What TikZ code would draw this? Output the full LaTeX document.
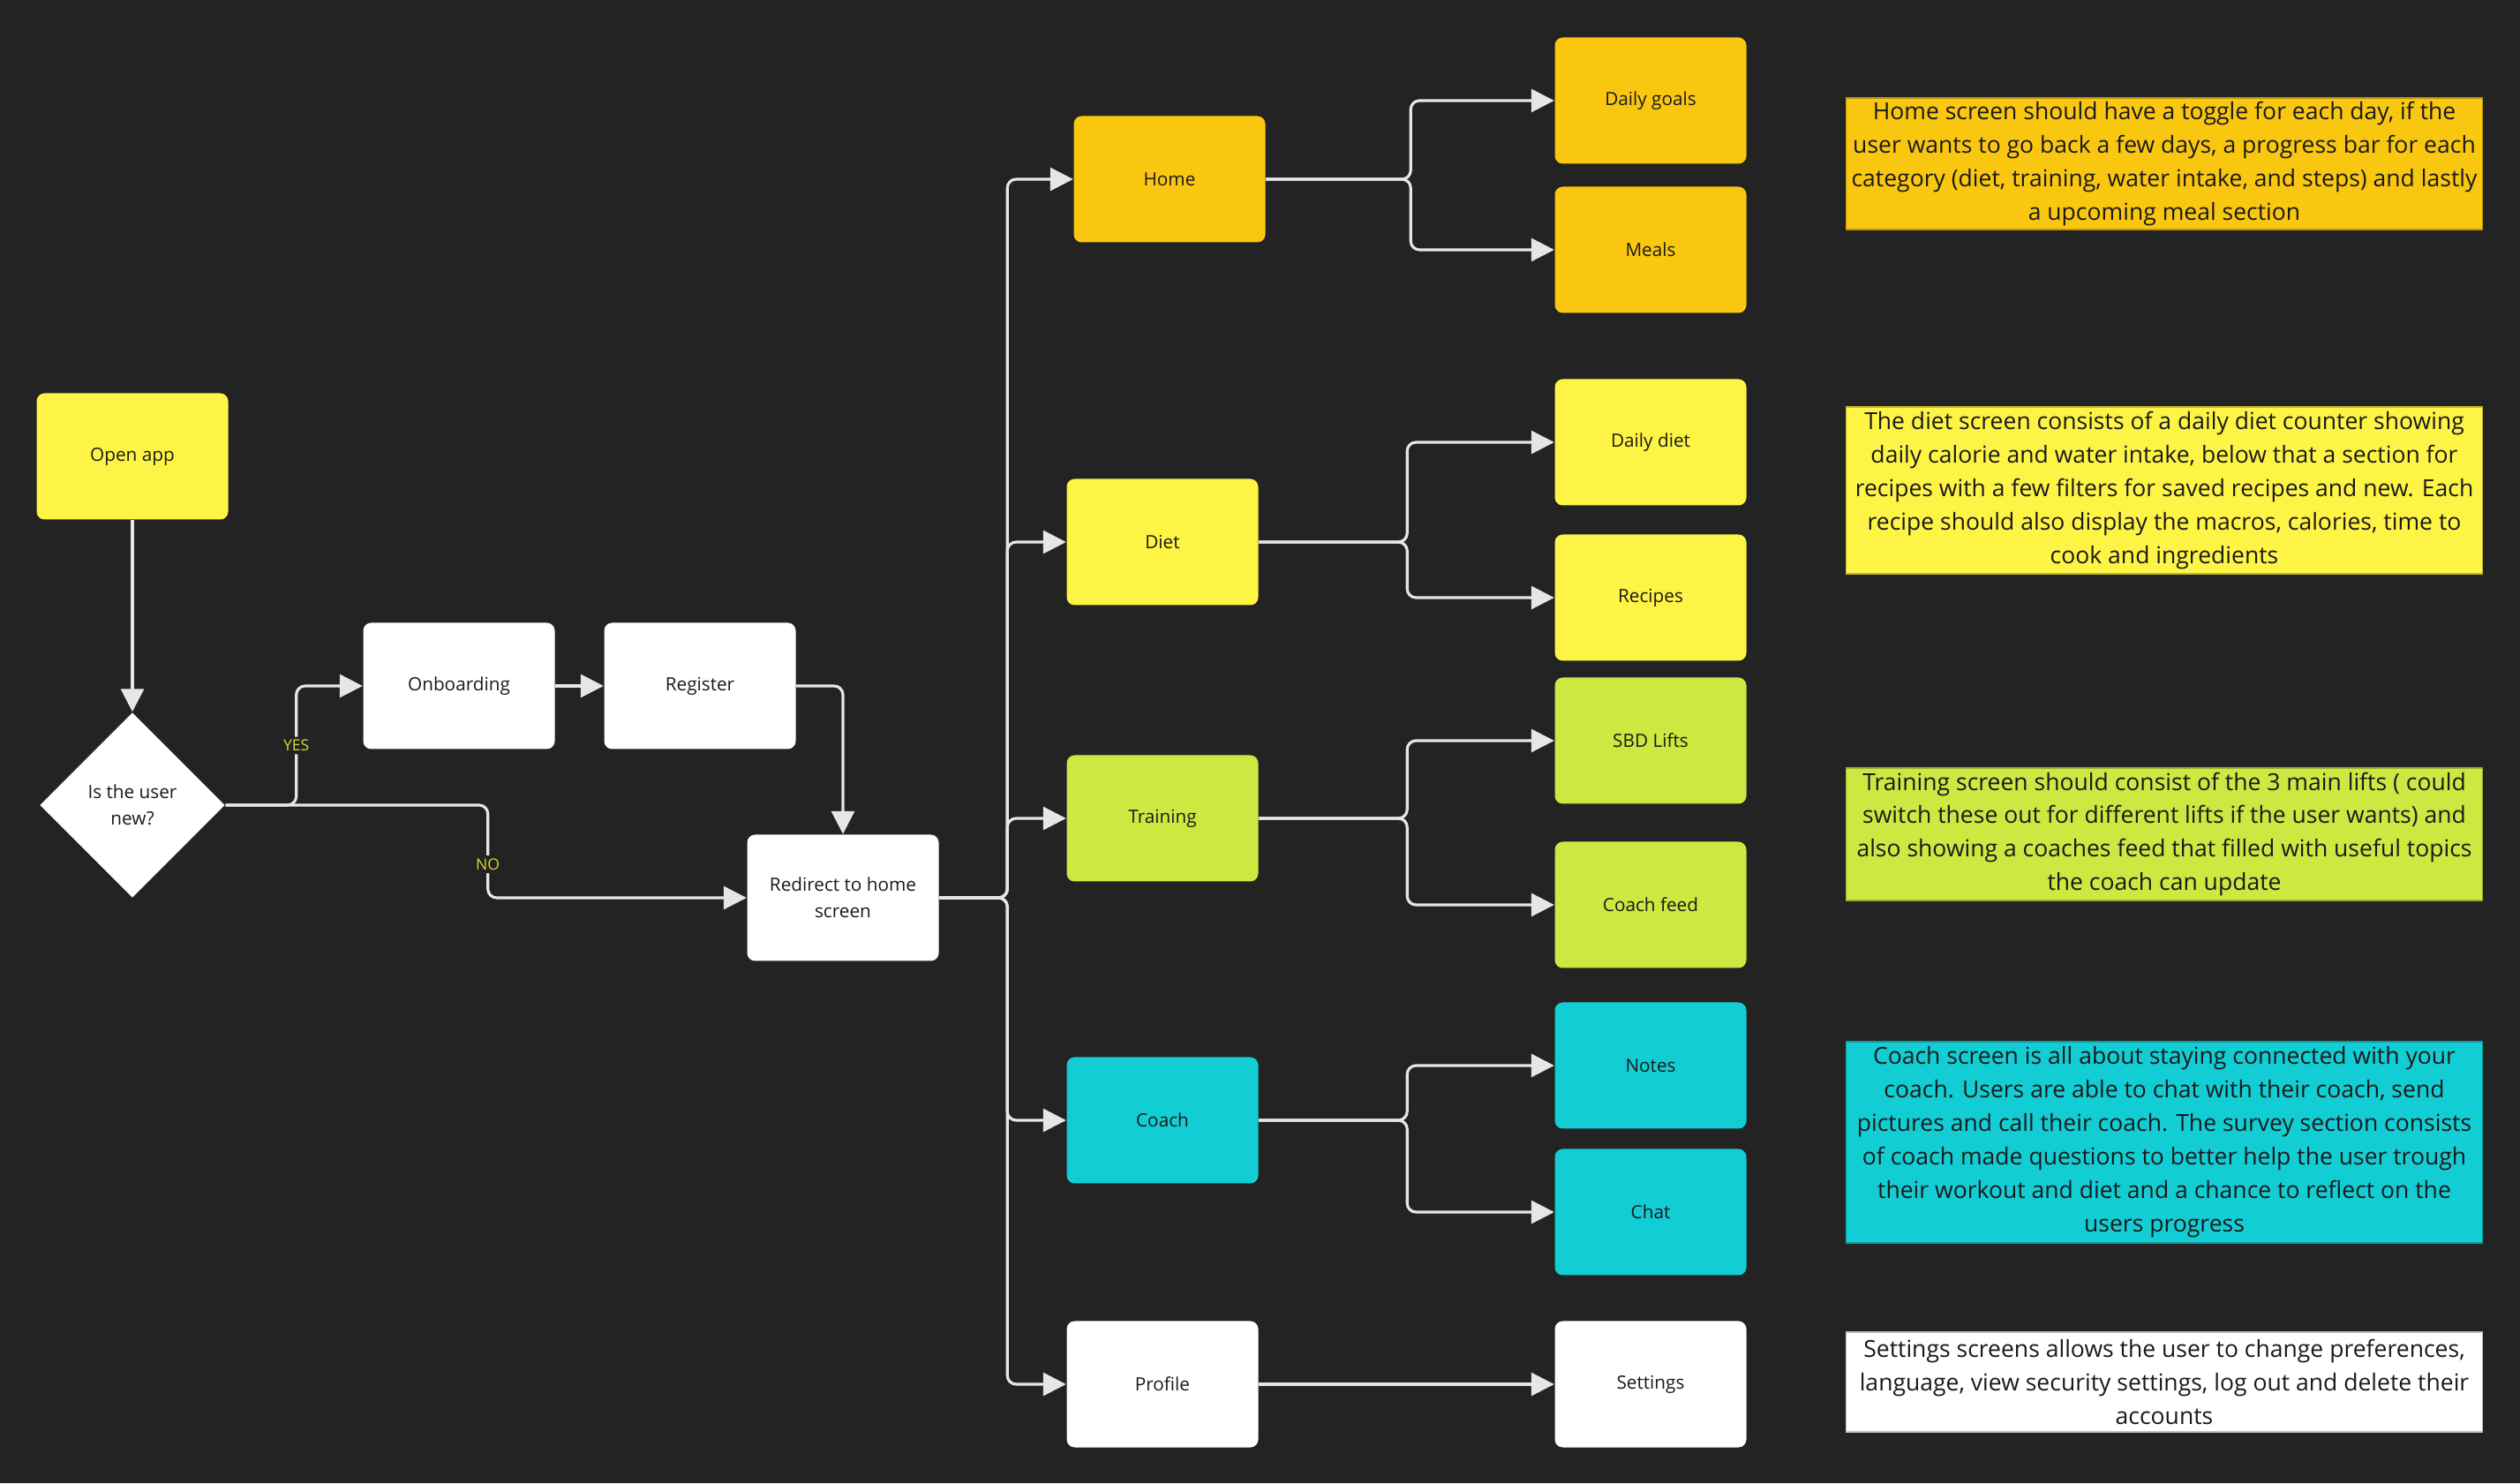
\documentclass[tikz,border=0pt]{standalone}
\usepackage{fontspec}
\setmainfont{Open Sans}
\usetikzlibrary{positioning,arrows.meta,calc,shapes.geometric}
\definecolor{boardbg}{HTML}{232323}
\definecolor{homeorange}{HTML}{FAC710}
\definecolor{dietyellow}{HTML}{FEF445}
\definecolor{trainlime}{HTML}{CEE741}
\definecolor{coachcyan}{HTML}{12CDD4}
\definecolor{linegrey}{HTML}{E6E6E6}
\definecolor{labelyellow}{HTML}{D6D62B}
\definecolor{inktext}{HTML}{1A1A1A}

\begin{document}
\begin{tikzpicture}[
    every node/.style={font=\fontsize{5.9}{8.5}\selectfont, text=inktext},
    screen/.style={rectangle, rounded corners=0.9mm, minimum width=21.7mm,
                   minimum height=14.3mm, inner sep=2pt, align=center, fill=#1},
    screen/.default=white,
    decision/.style={diamond, fill=white, minimum width=21mm, minimum height=21mm,
                     inner sep=0pt, align=center},
    info/.style={rectangle, inner sep=0pt, minimum width=72.1mm, align=center,
                 font=\fontsize{7.55}{10.8}\selectfont, fill=#1, draw=#1!75!black,
                 line width=0.4pt},
    conn/.style={-{Triangle[length=2.6mm,width=2.6mm]}, line width=0.9pt,
                 draw=linegrey, rounded corners=1mm},
    answer/.style={font=\fontsize{5}{6}\selectfont, text=labelyellow, fill=boardbg,
                   inner sep=1pt}
]

\fill[boardbg] (0,0) rectangle (28.55,16.80);
\useasboundingbox (0,0) rectangle (28.55,16.80);

% --- Entry flow ---
\node[screen=dietyellow] (open) at (1.50, 11.63) {Open app};
\node[decision] (isnew) at (1.50, 7.68) {Is the user\\new?};
\node[screen] (onb)   at (5.20, 9.03) {Onboarding};
\node[screen] (reg)   at (7.93, 9.03) {Register};
\node[screen] (redir) at (9.55, 6.63) {Redirect to home\\screen};

% --- Main screens ---
\node[screen=homeorange] (home)    at (13.25, 14.77) {Home};
\node[screen=dietyellow] (diet)    at (13.17, 10.66) {Diet};
\node[screen=trainlime]  (train)   at (13.17, 7.53)  {Training};
\node[screen=coachcyan]  (coach)   at (13.17, 4.11)  {Coach};
\node[screen]            (profile) at (13.17, 1.12)  {Profile};

% --- Sub screens ---
\node[screen=homeorange] (goals)    at (18.70, 15.66) {Daily goals};
\node[screen=homeorange] (meals)    at (18.70, 13.97) {Meals};
\node[screen=dietyellow] (ddiet)    at (18.70, 11.79) {Daily diet};
\node[screen=dietyellow] (recipes)  at (18.70, 10.03) {Recipes};
\node[screen=trainlime]  (sbd)      at (18.70, 8.41)  {SBD Lifts};
\node[screen=trainlime]  (cfeed)    at (18.70, 6.55)  {Coach feed};
\node[screen=coachcyan]  (notes)    at (18.70, 4.73)  {Notes};
\node[screen=coachcyan]  (chat)     at (18.70, 3.07)  {Chat};
\node[screen]            (settings) at (18.70, 1.12)  {Settings};

% --- Notes per screen ---
\node[info=homeorange, minimum height=14.9mm] (homeinfo) at (24.52, 14.945)
    {Home screen should have a toggle for each day, if the\\
     user wants to go back a few days, a progress bar for each\\
     category (diet, training, water intake, and steps) and lastly\\
     a upcoming meal section};
\node[info=dietyellow, minimum height=18.9mm] (dietinfo) at (24.52, 11.245)
    {The diet screen consists of a daily diet counter showing\\
     daily calorie and water intake, below that a section for\\
     recipes with a few filters for saved recipes and new. Each\\
     recipe should also display the macros, calories, time to\\
     cook and ingredients};
\node[info=trainlime, minimum height=15mm] (traininfo) at (24.52, 7.35)
    {Training screen should consist of the 3 main lifts ( could\\
     switch these out for different lifts if the user wants) and\\
     also showing a coaches feed that filled with useful topics\\
     the coach can update};
\node[info=coachcyan, minimum height=22.8mm] (coachinfo) at (24.52, 3.86)
    {Coach screen is all about staying connected with your\\
     coach. Users are able to chat with their coach, send\\
     pictures and call their coach. The survey section consists\\
     of coach made questions to better help the user trough\\
     their workout and diet and a chance to reflect on the\\
     users progress};
\node[info=white, minimum height=11.3mm] (setinfo) at (24.52, 1.145)
    {Settings screens allows the user to change preferences,\\
     language, view security settings, log out and delete their\\
     accounts};

% --- Entry connectors ---
\draw[conn] (open.south) -- (isnew.north);
\draw[conn] (isnew.east) -- ++(0.80,0) |- node[answer, pos=0.25] {YES} (onb.west);
\draw[conn] (isnew.east) -- ++(2.97,0) |- node[answer, pos=0.32] {NO} (redir.west);
\draw[conn] (onb.east) -- (reg.west);
\draw[conn] (reg.east) -| (redir.north);

% --- Redirect to main screens ---
\draw[conn] (redir.east) -- ++(0.77,0) |- (home.west);
\draw[conn] (redir.east) -- ++(0.77,0) |- (diet.west);
\draw[conn] (redir.east) -- ++(0.77,0) |- (train.west);
\draw[conn] (redir.east) -- ++(0.77,0) |- (coach.west);
\draw[conn] (redir.east) -- ++(0.77,0) |- (profile.west);

% --- Main screens to sub screens ---
\draw[conn] (home.east)  -- ++(1.64,0) |- (goals.west);
\draw[conn] (home.east)  -- ++(1.64,0) |- (meals.west);
\draw[conn] (diet.east)  -- ++(1.68,0) |- (ddiet.west);
\draw[conn] (diet.east)  -- ++(1.68,0) |- (recipes.west);
\draw[conn] (train.east) -- ++(1.68,0) |- (sbd.west);
\draw[conn] (train.east) -- ++(1.68,0) |- (cfeed.west);
\draw[conn] (coach.east) -- ++(1.68,0) |- (notes.west);
\draw[conn] (coach.east) -- ++(1.68,0) |- (chat.west);
\draw[conn] (profile.east) -- (settings.west);

\end{tikzpicture}
\end{document}
